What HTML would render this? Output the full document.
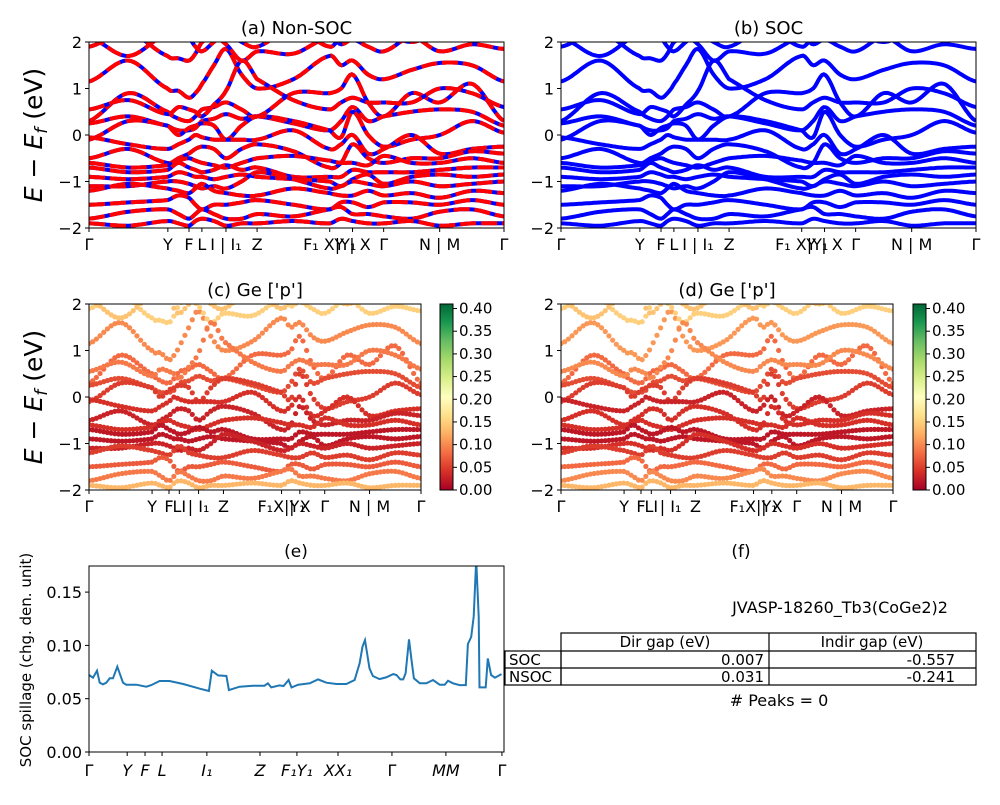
<!DOCTYPE html>
<html><head><meta charset="utf-8"><style>
body{margin:0;background:#fff}
svg text{font-family:"DejaVu Sans","Liberation Sans",sans-serif;fill:#000}
</style></head><body>
<svg id="fig" width="1000" height="800" viewBox="0 0 1000 800" xmlns="http://www.w3.org/2000/svg">
<defs>
<clipPath id="cA"><rect x="89" y="42" width="415" height="186"/></clipPath>
<clipPath id="cB"><rect x="561" y="42" width="415" height="186"/></clipPath>
<clipPath id="cC"><rect x="89" y="304" width="332" height="186"/></clipPath>
<clipPath id="cD"><rect x="561" y="304" width="332" height="186"/></clipPath>
<clipPath id="cE"><rect x="89" y="566" width="415" height="186"/></clipPath>
<linearGradient id="cmap" x1="0" y1="1" x2="0" y2="0">
<stop offset="0" stop-color="#a50026"/><stop offset="0.1" stop-color="#d73027"/><stop offset="0.2" stop-color="#f46d43"/><stop offset="0.3" stop-color="#fdae61"/><stop offset="0.4" stop-color="#fee08b"/><stop offset="0.5" stop-color="#ffffbf"/><stop offset="0.6" stop-color="#d9ef8b"/><stop offset="0.7" stop-color="#a6d96a"/><stop offset="0.8" stop-color="#66bd63"/><stop offset="0.9" stop-color="#1a9850"/><stop offset="1" stop-color="#006837"/>
</linearGradient>
</defs>
<g id="root"></g>
<g>
<text x="741" y="557" font-size="17" text-anchor="middle">(f)</text>
<text x="840" y="613" font-size="16" text-anchor="middle">JVASP-18260_Tb3(CoGe2)2</text>
<g fill="none" stroke="#000" stroke-width="1.2">
<rect x="561" y="633" width="415" height="52"/>
<rect x="505" y="651" width="56" height="34"/>
<line x1="505" y1="668" x2="976" y2="668"/>
<line x1="561" y1="651" x2="976" y2="651"/>
<line x1="769" y1="633" x2="769" y2="685"/>
</g>
<text x="665" y="647" font-size="15" text-anchor="middle">Dir gap (eV)</text>
<text x="872" y="647" font-size="15" text-anchor="middle">Indir gap (eV)</text>
<text x="509" y="665" font-size="15">SOC</text>
<text x="509" y="682" font-size="15">NSOC</text>
<text x="764" y="665" font-size="15" text-anchor="end">0.007</text>
<text x="955" y="665" font-size="15" text-anchor="end">-0.557</text>
<text x="764" y="682" font-size="15" text-anchor="end">0.031</text>
<text x="955" y="682" font-size="15" text-anchor="end">-0.241</text>
<text x="779" y="706" font-size="16" text-anchor="middle"># Peaks = 0</text>
</g>
</svg>
<script>
const kNodes=[0,.095,.19,.2155,.241,.2565,.272,.301,.33,.3675,.405,.4925,.58,.6075,.635,.6725,.71,.7775,.845,.9225,1];
const bands=[
[1.15,1.6,1.0,0.95,0.8,0.9,1.1,1.5,1.85,1.3,1.0,1.2,1.7,1.5,1.6,1.3,1.2,1.4,1.55,1.5,1.15],
[0.3,0.9,0.5,0.35,0.3,0.4,0.55,0.6,0.7,0.55,0.4,0.9,0.9,1.0,1.3,0.7,0.4,0.9,0.7,1.1,0.3],
[0.25,0.4,0.2,0.1,0.1,0.15,0.3,0.35,0.45,0.35,0.4,0.25,0.1,0.3,0.6,0.3,0.4,0.5,0.55,0.5,0.2],
[-0.1,0.3,0.2,0.0,0.15,0.2,0.25,0.2,-0.1,0.2,0.4,0.3,0.1,-0.05,0.5,0.0,-0.25,-0.1,0.0,0.3,0.05],
[-0.05,-0.2,-0.3,-0.2,-0.1,0.0,-0.05,-0.1,-0.1,-0.1,-0.1,0.1,-0.3,-0.2,0.0,-0.4,-0.3,0.0,-0.4,-0.3,-0.25],
[-0.5,-0.3,-0.6,-0.5,-0.4,-0.3,-0.25,-0.3,-0.5,-0.3,-0.2,-0.35,-0.7,-0.6,-0.2,-0.5,-0.6,-0.5,-0.5,-0.35,-0.4],
[-0.6,-0.7,-0.65,-0.55,-0.5,-0.55,-0.6,-0.65,-0.7,-0.6,-0.5,-0.45,-0.55,-0.6,-0.6,-0.65,-0.45,-0.6,-0.6,-0.5,-0.6],
[-0.7,-0.8,-0.75,-0.6,-0.7,-0.75,-0.8,-0.75,-0.65,-0.75,-0.7,-0.9,-0.9,-0.9,-0.75,-0.8,-0.8,-0.8,-0.75,-0.7,-0.7],
[-0.9,-0.95,-0.9,-0.8,-0.85,-0.9,-0.9,-0.95,-0.9,-0.85,-0.9,-0.95,-1.0,-1.1,-0.95,-0.85,-1.05,-0.9,-0.85,-0.9,-0.85],
[-1.1,-1.1,-1.0,-1.0,-1.05,-1.1,-1.15,-1.1,-1.15,-1.0,-0.8,-0.95,-1.15,-1.1,-1.0,-1.05,-1.1,-1.0,-1.1,-1.05,-1.0],
[-1.2,-1.05,-1.15,-1.2,-1.25,-1.15,-1.05,-1.2,-1.25,-1.3,-1.3,-1.15,-1.25,-1.3,-1.3,-1.2,-1.3,-1.25,-1.35,-1.2,-1.25],
[-1.5,-1.45,-1.4,-1.3,-1.35,-1.5,-1.6,-1.5,-1.5,-1.45,-1.4,-1.5,-1.6,-1.45,-1.45,-1.55,-1.45,-1.45,-1.5,-1.4,-1.5],
[-1.8,-1.65,-1.6,-1.7,-1.8,-1.7,-1.6,-1.7,-1.8,-1.8,-1.7,-1.75,-1.6,-1.55,-1.7,-1.7,-1.75,-1.8,-1.65,-1.6,-1.75],
[-1.9,-1.95,-1.85,-1.9,-1.95,-1.85,-1.8,-1.85,-1.95,-1.9,-1.9,-1.85,-1.9,-1.8,-1.85,-1.9,-1.9,-1.85,-1.95,-1.9,-1.9],
[1.9,2.2,1.7,1.65,1.6,1.75,2.0,2.1,1.95,1.6,1.8,1.75,2.1,1.95,2.05,1.9,1.8,2.1,1.8,1.95,1.85],
[2.1,1.7,2.2,2.3,2.1,1.9,1.8,2.0,2.2,2.0,1.9,2.3,1.9,2.1,2.2,2.4,2.2,2.0,2.2,2.1,2.2],
[0.55,0.75,0.45,0.6,0.55,0.5,0.4,0.65,0.95,1.6,1.2,0.75,0.55,0.7,0.8,0.7,0.7,0.7,1.0,0.9,0.6]
];
const bandWeights=[.1,.08,.06,.05,.04,.03,.04,.02,.02,.03,.05,.07,.09,.13,.15,.14,.09];
const socWeights=[.11,.08,.06,.05,.03,.04,.04,.02,.02,.04,.05,.08,.1,.13,.15,.14,.1];
const tickFracs=[0,.19,.241,.272,.33,.405,.58,.635,.71,.845,1];
const tickLabelsAB=["Γ","Y","F","L","I | I₁","Z","F₁ X|Y₁","Y | X","Γ","N | M","Γ"];
const tickLabelsCD=["Γ","Y","F","LI","| I₁","Z","F₁X|Y₁","| X","Γ","N | M","Γ"];
const eTicks=[2,1,0,-1,-2];
const cbTicks=[0,.05,.1,.15,.2,.25,.3,.35,.4];
const spillK=[0,0.96,1.93,2.57,3.37,4.18,4.98,5.78,6.83,8.19,9.0,11.4,13.8,15.0,17.0,19.4,22.7,26.7,28.9,29.6,31.1,33.1,33.7,36.3,39.5,42.3,43.1,43.9,45.9,46.9,48.1,48.8,50.4,53.2,55.2,57.2,59.6,62.0,64.0,65.2,65.9,66.5,67.0,67.6,68.4,70.0,71.6,73.3,74.1,75.0,75.7,76.3,77.1,77.7,78.3,79.7,81.3,82.9,84.5,85.7,86.5,87.7,89.3,90.8,91.3,92.1,92.7,93.3,93.9,94.1,95.6,96.1,96.9,97.8,99.4];
const spillV=[0.0722,0.0697,0.0763,0.065,0.0634,0.065,0.0691,0.0691,0.080,0.065,0.0631,0.0631,0.0613,0.0628,0.0666,0.0666,0.0638,0.0594,0.0572,0.0763,0.0719,0.0713,0.0581,0.0613,0.0622,0.0622,0.0644,0.0606,0.0625,0.0619,0.0675,0.0606,0.0631,0.0644,0.0681,0.065,0.0638,0.0638,0.0675,0.0831,0.0988,0.105,0.0925,0.0784,0.0713,0.0684,0.070,0.0731,0.0722,0.0681,0.0681,0.0738,0.1056,0.0863,0.0691,0.0644,0.0644,0.0675,0.0631,0.0631,0.0669,0.0644,0.0628,0.0628,0.1013,0.108,0.127,0.18,0.127,0.0606,0.0606,0.0878,0.0722,0.0697,0.0731];
const spillTickK=[0,9.2,13.5,17.6,28.4,41.2,50.1,60,73,86,99.5];
const spillTickLabels=["Γ","Y","F","L","I₁","Z","F₁Y₁","XX₁","Γ","MM","Γ"];
const spillYTicks=[0,.05,.1,.15];

const NS="http://www.w3.org/2000/svg";
const root=document.getElementById('root');
function el(tag,attrs,parent){const e=document.createElementNS(NS,tag);for(const k in attrs)e.setAttribute(k,attrs[k]);(parent||root).appendChild(e);return e;}
function evalBand(b,k){let i=0;while(i<kNodes.length-2&&k>kNodes[i+1])i++;
 const t=(k-kNodes[i])/(kNodes[i+1]-kNodes[i]);const p0=b[Math.max(i-1,0)],p1=b[i],p2=b[i+1],p3=b[Math.min(i+2,b.length-1)];
 const t2=t*t,t3=t2*t;return 0.5*((2*p1)+(-p0+p2)*t+(2*p0-5*p1+4*p2-p3)*t2+(-p0+3*p1-3*p2+p3)*t3);}
function cmap(v){const stops=["#a50026","#d73027","#f46d43","#fdae61","#fee08b","#ffffbf","#d9ef8b","#a6d96a","#66bd63","#1a9850","#006837"];
 let f=Math.max(0,Math.min(1,v/0.41))*10;const i=Math.min(9,Math.floor(f));const t=f-i;
 const a=stops[i],b=stops[i+1];const c=j=>Math.round(parseInt(a.substr(j,2),16)*(1-t)+parseInt(b.substr(j,2),16)*t);
 return `rgb(${c(1)},${c(3)},${c(5)})`;}

function bandAxes(name,x0,y0,w,h,title,tickLabels,clip){
 const g=el('g',{});
 const sx=k=>x0+k*w, sy=e=>y0+(2-e)/4*h;
 const t=el('text',{x:x0+w/2,y:y0-8,'font-size':18,'text-anchor':'middle'},g);t.textContent=title;
 
 eTicks.forEach(v=>{el('line',{x1:x0-4,x2:x0,y1:sy(v),y2:sy(v),stroke:'#000'},g);
  const tt=el('text',{x:x0-7,y:sy(v)+6,'font-size':16,'text-anchor':'end'},g);tt.textContent=(v<0?'−':'')+Math.abs(v);
  });
 tickFracs.forEach((f,i)=>{el('line',{x1:sx(f),x2:sx(f),y1:y0+h,y2:y0+h+4,stroke:'#000'},g);
  const tt=el('text',{x:sx(f),y:y0+h+22,'font-size':16,'text-anchor':'middle'},g);tt.textContent=tickLabels[i];
  });
 const pg=el('g',{'clip-path':`url(#${clip})`},g);
 return {g,pg,sx,sy,x0,y0,w,h};
}
function frame(a){el('rect',{x:a.x0,y:a.y0,width:a.w,height:a.h,fill:'none',stroke:'#000','stroke-width':1},a.g);}
function bandPath(a,b){let d='';for(let s=0;s<=240;s++){const k=s/240;d+=(s?'L':'M')+a.sx(k).toFixed(1)+','+a.sy(evalBand(b,k)).toFixed(1);}return d;}

const A=bandAxes('panel-a-non-soc',89,42,415,186,'(a) Non-SOC',tickLabelsAB,'cA');
bands.forEach(b=>{const d=bandPath(A,b);
 const p1=el('path',{d,fill:'none',stroke:'#0000ff','stroke-width':4},A.pg);
 const p2=el('path',{d,fill:'none',stroke:'#ff0000','stroke-width':4,'stroke-dasharray':'16 5'},A.pg);});
frame(A);
const B=bandAxes('panel-b-soc',561,42,415,186,'(b) SOC',tickLabelsAB,'cB');
bands.forEach(b=>{const p=el('path',{d:bandPath(B,b),fill:'none',stroke:'#0000ff','stroke-width':4},B.pg);});
frame(B);
function scatterPanel(name,x0,title,weights,clip,cbx){
 const C=bandAxes(name,x0,304,332,186,title,tickLabelsCD,clip);
 bands.forEach((b,bi)=>{for(let s=0;s<=90;s++){const k=s/90;
  const c=el('circle',{cx:C.sx(k),cy:C.sy(evalBand(b,k)),r:2.6,fill:cmap(weights[bi])},C.pg);
  }});
 frame(C);
 const cb=el('g',{});
 el('rect',{x:cbx,y:304,width:13,height:186,fill:'url(#cmap)',stroke:'#000'},cb);
 cbTicks.forEach(v=>{const y=490-v/0.41*186;el('line',{x1:cbx+13,x2:cbx+17,y1:y,y2:y,stroke:'#000'},cb);
  const t=el('text',{x:cbx+19,y:y+5,'font-size':15},cb);t.textContent=v.toFixed(2);
  });
}
scatterPanel('panel-c-ge-p',89,'(c)  Ge [\'p\']',bandWeights,'cC',440);
scatterPanel('panel-d-ge-p',561,'(d) Ge [\'p\']',socWeights,'cD',913);
[[135,'y-label-top'],[397,'y-label-mid']].forEach(([cy,n])=>{const t=el('text',{x:0,y:0,'font-size':25,'text-anchor':'middle',transform:`translate(42,${cy}) rotate(-90)`});
 t.innerHTML='<tspan font-style="italic">E</tspan> − <tspan font-style="italic">E</tspan><tspan font-style="italic" font-size="17" dy="5">f</tspan><tspan dy="-5"> (eV)</tspan>';
 });
const eg=el('g',{});
const ex=k=>89+k/100*415, ey=v=>752-v/0.05*53.3;
const et=el('text',{x:296,y:557,'font-size':17,'text-anchor':'middle'},eg);et.textContent='(e)';

spillYTicks.forEach(v=>{el('line',{x1:85,x2:89,y1:ey(v),y2:ey(v),stroke:'#000'},eg);
 const t=el('text',{x:82,y:ey(v)+6,'font-size':16,'text-anchor':'end'},eg);t.textContent=v.toFixed(2);
 });
spillTickK.forEach((k,i)=>{el('line',{x1:ex(k),x2:ex(k),y1:752,y2:756,stroke:'#000'},eg);
 const t=el('text',{x:ex(k),y:776,'font-size':16,'font-style':i===0||i===8||i===10?'normal':'italic','text-anchor':'middle'},eg);t.textContent=spillTickLabels[i];
 });
let d='';spillK.forEach((k,i)=>{d+=(i?'L':'M')+ex(k).toFixed(1)+','+ey(spillV[i]).toFixed(1);});
const sp=el('path',{d,fill:'none',stroke:'#1f77b4','stroke-width':2,'clip-path':'url(#cE)'},eg);

el('rect',{x:89,y:566,width:415,height:186,fill:'none',stroke:'#000'},eg);
const yl=el('text',{x:0,y:0,'font-size':15,'text-anchor':'middle',transform:'translate(31,660) rotate(-90)'},eg);
yl.textContent='SOC spillage (chg. den. unit)';
</script>
</body></html>
